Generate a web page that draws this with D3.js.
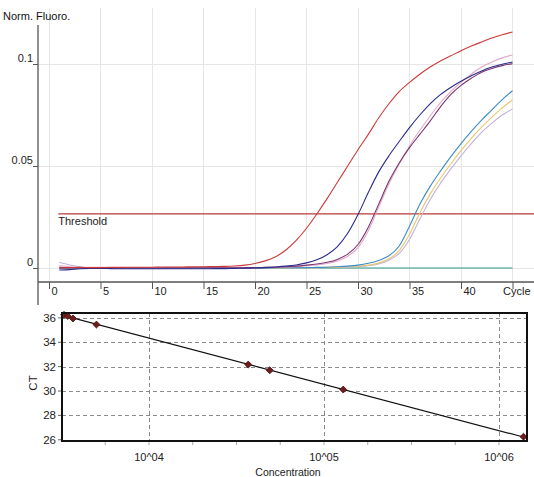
<!DOCTYPE html>
<html><head><meta charset="utf-8">
<script src="https://cdn.jsdelivr.net/npm/d3@7"></script>
<style>
html,body{margin:0;padding:0;background:#fff;}
svg{display:block;font-family:"Liberation Sans",Arial,sans-serif;}
</style></head>
<body>
<svg id="c" width="534" height="477"></svg>
<script>
// ---------- Amplification plot data (normalized fluorescence per cycle 1..45) ----------
const cycles = d3.range(1, 46);
const xTickValues = [0, 5, 10, 15, 20, 25, 30, 35, 40, 45];
const xTickLabels = ["0", "5", "10", "15", "20", "25", "30", "35", "40", "Cycle"];
const yTickValues = [0, 0.05, 0.1];
const yTickLabels = ["0", "0.05", "0.1"];
const thresholdValue = 0.0265;
const seriesNames = ["red", "navy", "purple", "pink", "blue", "yellow", "lavender", "ntc"];
const seriesColors = ["#cc3a3a", "#2c2c8a", "#7a3470", "#e2a9c6", "#3d8cc6", "#e6c86a", "#c6b0de", "#2a9888"];

const red = [0.0000,0.0002,0.0003,0.0002,0.0002,0.0003,0.0003,0.0004,0.0004,0.0004,0.0005,0.0005,0.0005,0.0006,0.0006,0.0007,0.0008,0.0010,0.0014,0.0022,0.0035,0.0055,0.0088,0.0135,0.0195,0.0265,0.0340,0.0420,0.0500,0.0580,0.0655,0.0735,0.0805,0.0865,0.0910,0.0950,0.0985,0.1015,0.1040,0.1065,0.1088,0.1108,0.1127,0.1143,0.1157];
const navy = [-0.0010,-0.0008,-0.0004,-0.0002,-0.0002,-0.0003,-0.0004,-0.0004,-0.0004,-0.0004,-0.0004,-0.0004,-0.0004,-0.0004,-0.0004,-0.0003,-0.0003,-0.0002,-0.0001,0.0000,0.0002,0.0005,0.0009,0.0015,0.0025,0.0040,0.0065,0.0105,0.0170,0.0262,0.0370,0.0470,0.0550,0.0620,0.0688,0.0750,0.0805,0.0850,0.0885,0.0915,0.0942,0.0966,0.0985,0.0999,0.1010];
const purple = [0.0003,0.0001,0.0000,0.0001,0.0001,0.0000,0.0000,0.0000,0.0000,0.0000,0.0000,0.0001,0.0001,0.0001,0.0001,0.0001,0.0001,0.0001,0.0002,0.0002,0.0003,0.0004,0.0006,0.0009,0.0014,0.0020,0.0028,0.0042,0.0068,0.0115,0.0200,0.0312,0.0425,0.0515,0.0590,0.0655,0.0720,0.0790,0.0850,0.0895,0.0930,0.0960,0.0978,0.0992,0.1002];
const pink = [0.0012,0.0006,0.0002,0.0003,0.0004,0.0002,0.0001,0.0001,0.0001,0.0001,0.0001,0.0001,0.0001,0.0001,0.0001,0.0001,0.0001,0.0002,0.0002,0.0002,0.0003,0.0004,0.0005,0.0008,0.0011,0.0015,0.0022,0.0034,0.0058,0.0100,0.0182,0.0298,0.0412,0.0510,0.0598,0.0675,0.0745,0.0810,0.0865,0.0910,0.0950,0.0985,0.1010,0.1030,0.1044];
const blue = [-0.0002,-0.0001,0.0000,0.0000,0.0000,0.0000,0.0000,0.0000,0.0000,0.0000,0.0000,0.0000,0.0000,0.0000,0.0000,0.0000,0.0000,0.0000,0.0000,0.0000,0.0000,0.0001,0.0001,0.0001,0.0002,0.0003,0.0004,0.0006,0.0009,0.0014,0.0023,0.0037,0.0060,0.0108,0.0205,0.0312,0.0400,0.0475,0.0545,0.0610,0.0670,0.0725,0.0775,0.0825,0.0869];
const yellow = [0.0001,0.0001,0.0000,0.0000,0.0000,0.0000,0.0000,0.0000,0.0000,0.0000,0.0000,0.0000,0.0000,0.0000,0.0000,0.0000,0.0000,0.0000,0.0000,0.0000,0.0000,0.0000,0.0001,0.0001,0.0001,0.0002,0.0003,0.0004,0.0006,0.0009,0.0014,0.0024,0.0045,0.0085,0.0165,0.0270,0.0362,0.0440,0.0510,0.0575,0.0635,0.0690,0.0740,0.0785,0.0824];
const lavender = [0.0028,0.0015,0.0006,0.0002,0.0001,0.0000,0.0000,0.0000,0.0000,0.0000,0.0000,0.0000,0.0000,0.0000,0.0000,0.0000,0.0000,0.0000,0.0000,0.0000,0.0000,0.0000,0.0001,0.0001,0.0001,0.0002,0.0003,0.0004,0.0005,0.0007,0.0011,0.0020,0.0038,0.0072,0.0140,0.0240,0.0335,0.0415,0.0485,0.0550,0.0610,0.0665,0.0710,0.0750,0.0780];
const ntc = [0,0,0,0,0,0,0,0,0,0,0,0,0,0,0,0,0,0,0,0,0,0,0,0,0,0,0,0,0,0,0,0,0,0,0,0,0,0,0,0,0,0,0,0,0];

// ---------- Standard curve data ----------
const concentration = [3270, 3430, 3680, 5010, 36900, 49000, 128800, 1380000];
const ctValues = [36.25, 36.15, 35.95, 35.45, 32.17, 31.70, 30.12, 26.25];
const ctTicks = [26, 28, 30, 32, 34, 36];
const concMajorTicks = [1e4, 1e5, 1e6];
const concMajorLabels = ["10^04", "10^05", "10^06"];
const concMinorExponents = [3.75, 4.25, 4.5, 4.75, 5.25, 5.5, 5.75];

const allSeries = [red, navy, purple, pink, blue, yellow, lavender, ntc];

const svg = d3.select("#c");
svg.append("rect").attr("width", 534).attr("height", 477).attr("fill", "#fff");

// ================= TOP CHART =================
const xTop = d3.scaleLinear().domain([0, 45]).range([49, 512.5]);
const yTop = d3.scaleLinear().domain([0, 0.1]).range([268, 64]);
const gTop = svg.append("g");

gTop.append("g").selectAll("line").data(xTickValues).join("line")
  .attr("x1", d => xTop(d)).attr("x2", d => xTop(d))
  .attr("y1", 8).attr("y2", 282)
  .attr("stroke", "#e6e6e6").attr("stroke-width", 1).attr("shape-rendering", "crispEdges");
gTop.append("g").selectAll("line").data(yTickValues).join("line")
  .attr("x1", 38).attr("x2", 534)
  .attr("y1", d => yTop(d)).attr("y2", d => yTop(d))
  .attr("stroke", "#e6e6e6").attr("stroke-width", 1).attr("shape-rendering", "crispEdges");

gTop.append("line")
  .attr("x1", xTop(0.9)).attr("x2", 534)
  .attr("y1", yTop(thresholdValue)).attr("y2", yTop(thresholdValue))
  .attr("stroke", "#b83a3a").attr("stroke-width", 1.2);
gTop.append("text").attr("x", xTop(0.9)).attr("y", yTop(thresholdValue) + 11)
  .attr("font-size", 11).attr("fill", "#222").text("Threshold");

const line = d3.line().x((d, i) => xTop(cycles[i])).y(d => yTop(d)).curve(d3.curveMonotoneX);
const order = [7, 6, 5, 4, 3, 2, 1, 0];
gTop.append("g").selectAll("path").data(order).join("path")
  .attr("d", k => line(allSeries[k]))
  .attr("fill", "none")
  .attr("stroke", k => seriesColors[k])
  .attr("stroke-width", k => k === 7 ? 1.2 : 1.1);

const xAxisTop = d3.axisBottom(xTop).tickValues(xTickValues)
  .tickFormat((d, i) => xTickLabels[i]).tickSize(7);
const gx = gTop.append("g").attr("transform", "translate(0,282)").call(xAxisTop);
gx.select(".domain").remove();
gx.selectAll(".tick line").attr("stroke", "#555");
gx.selectAll(".tick text").attr("text-anchor", "start").attr("x", 2).attr("y", 13).attr("dy", 0)
  .attr("font-size", 11).attr("fill", "#222").attr("font-family", "Liberation Sans, Arial, sans-serif");
gx.selectAll(".tick").filter(d => d === 45).select("text").attr("x", -10);

const yAxisTop = d3.axisLeft(yTop).tickValues(yTickValues)
  .tickFormat((d, i) => yTickLabels[i]).tickSize(5);
const gy = gTop.append("g").attr("transform", "translate(38,0)").call(yAxisTop);
gy.select(".domain").remove();
gy.selectAll(".tick line").attr("stroke", "#555");
gy.selectAll(".tick text").attr("x", -5).attr("dy", -3)
  .attr("font-size", 11).attr("fill", "#222").attr("font-family", "Liberation Sans, Arial, sans-serif");

gTop.append("line").attr("x1", 38).attr("x2", 534).attr("y1", 282).attr("y2", 282)
  .attr("stroke", "#555").attr("stroke-width", 1.3);
gTop.append("line").attr("x1", 38).attr("x2", 38).attr("y1", 25).attr("y2", 305)
  .attr("stroke", "#555").attr("stroke-width", 1.3);

gTop.append("text").attr("x", 3).attr("y", 20).attr("font-size", 11).attr("fill", "#111").text("Norm. Fluoro.");

// ================= BOTTOM CHART =================
const xBot = d3.scaleLog().domain([Math.pow(10, 3.503), Math.pow(10, 6.16)]).range([62, 527]);
const yBot = d3.scaleLinear().domain([25.9, 36.4]).range([441, 313]);
const gBot = svg.append("g");

gBot.append("defs").append("clipPath").attr("id", "clipB")
  .append("rect").attr("x", 62).attr("y", 313).attr("width", 465).attr("height", 128);

gBot.append("g").selectAll("line").data(ctTicks).join("line")
  .attr("x1", 62).attr("x2", 527)
  .attr("y1", d => Math.round(yBot(d)) + 0.5).attr("y2", d => Math.round(yBot(d)) + 0.5)
  .attr("stroke", "#8a8a8a").attr("stroke-dasharray", "4,3");
gBot.append("g").selectAll("line").data(concMajorTicks).join("line")
  .attr("x1", d => Math.round(xBot(d)) + 0.5).attr("x2", d => Math.round(xBot(d)) + 0.5)
  .attr("y1", 313).attr("y2", 441)
  .attr("stroke", "#8a8a8a").attr("stroke-dasharray", "4,3");

gBot.append("g").selectAll("line").data(concMinorExponents.map(e => Math.pow(10, e)).concat(concMajorTicks)).join("line")
  .attr("x1", d => xBot(d)).attr("x2", d => xBot(d))
  .attr("y1", 441).attr("y2", 445)
  .attr("stroke", "#aaa");

gBot.append("g").selectAll("text").data(ctTicks).join("text")
  .attr("x", 56).attr("y", d => yBot(d)).attr("dy", "0.35em")
  .attr("text-anchor", "end").attr("font-size", 11.5).attr("fill", "#222").text(d => d);
gBot.append("g").selectAll("line").data(ctTicks).join("line")
  .attr("x1", 58).attr("x2", 62).attr("y1", d => yBot(d)).attr("y2", d => yBot(d))
  .attr("stroke", "#666");

gBot.append("g").selectAll("text").data(concMajorTicks).join("text")
  .attr("x", d => xBot(d)).attr("y", 461)
  .attr("text-anchor", "middle").attr("font-size", 11).attr("fill", "#222")
  .text((d, i) => concMajorLabels[i]);

gBot.append("text").attr("x", 288).attr("y", 476).attr("text-anchor", "middle")
  .attr("font-size", 10.5).attr("fill", "#222").text("Concentration");
gBot.append("text").attr("transform", "translate(37,383) rotate(-90)")
  .attr("text-anchor", "middle").attr("font-size", 11.5).attr("fill", "#222").text("CT");

const lx = concentration.map(c => Math.log10(c));
const mx = d3.mean(lx), my = d3.mean(ctValues);
const slope = d3.sum(lx.map((v, i) => (v - mx) * (ctValues[i] - my))) / d3.sum(lx.map(v => (v - mx) ** 2));
const intercept = my - slope * mx;
const dom = xBot.domain();
const fitPts = dom.map(c => [c, intercept + slope * Math.log10(c)]);
gBot.append("path").attr("clip-path", "url(#clipB)")
  .attr("d", d3.line().x(d => xBot(d[0])).y(d => yBot(d[1]))(fitPts))
  .attr("stroke", "#111").attr("stroke-width", 1.2).attr("fill", "none");

gBot.append("g").selectAll("path").data(concentration).join("path")
  .attr("transform", (d, i) => `translate(${xBot(d)},${yBot(ctValues[i])}) rotate(45)`)
  .attr("d", d3.symbol(d3.symbolSquare, 24))
  .attr("fill", "#6e1c1c").attr("stroke", "#4a1010").attr("stroke-width", 0.8);

gBot.append("rect").attr("x", 62).attr("y", 313).attr("width", 465).attr("height", 128)
  .attr("fill", "none").attr("stroke", "#111").attr("stroke-width", 2);
</script>
</body></html>
